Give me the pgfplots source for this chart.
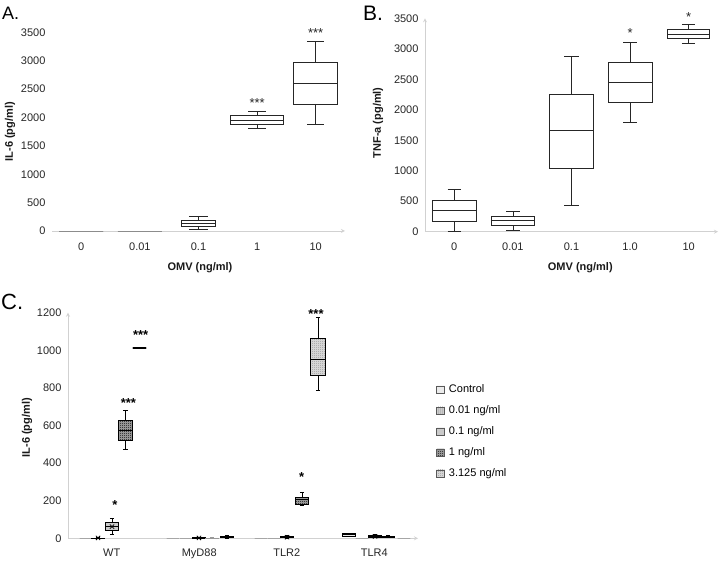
\documentclass[border=0pt]{standalone}
\usepackage{fontspec}
\setmainfont{Liberation Sans}
\usepackage{pgfplots}
\pgfplotsset{compat=1.18}
\usepgfplotslibrary{statistics}
\usetikzlibrary{patterns}
\pgfdeclarepatternformonly{finecheck}{\pgfpointorigin}{\pgfqpoint{2pt}{2pt}}{\pgfqpoint{2pt}{2pt}}{%
  \pgfpathrectangle{\pgfpointorigin}{\pgfqpoint{1pt}{1pt}}%
  \pgfpathrectangle{\pgfqpoint{1pt}{1pt}}{\pgfqpoint{1pt}{1pt}}%
  \pgfusepath{fill}}
\pgfdeclarepatternformonly{finedots}{\pgfqpoint{-0.5pt}{-0.5pt}}{\pgfqpoint{2pt}{2pt}}{\pgfqpoint{2pt}{2pt}}{%
  \pgfpathcircle{\pgfpointorigin}{0.45pt}%
  \pgfusepath{fill}}
\pgfdeclarepatternformonly{finevlines}{\pgfpointorigin}{\pgfqpoint{2pt}{1pt}}{\pgfqpoint{2pt}{1pt}}{%
  \pgfpathrectangle{\pgfpointorigin}{\pgfqpoint{0.8pt}{1pt}}%
  \pgfusepath{fill}}
\tikzset{
  star/.style={font=\fontsize{13}{13}\selectfont, text=black!85, inner sep=0pt},
  cstar/.style={font=\fontsize{13}{13}\selectfont\bfseries, text=black, inner sep=0pt},
  F0/.style={fill=gray!12, postaction={pattern=finedots, pattern color=gray!55}},
  F1/.style={fill=gray!40, postaction={pattern=finevlines, pattern color=gray!75}},
  F2/.style={fill=gray!35, postaction={pattern=finedots, pattern color=black!55}},
  F3/.style={fill=gray!65, postaction={pattern=finecheck, pattern color=black}},
  F4/.style={fill=gray!25, postaction={pattern=finecheck, pattern color=gray!85}},
}
\begin{document}
\begin{tikzpicture}
\useasboundingbox (0pt,0pt) rectangle (720pt,562pt);
\pgfplotsset{
  base/.style={scale only axis, clip=false, anchor=south west,
    boxplot/draw direction=y,
    axis line style={draw=black!18, line width=0.8pt, -},
    major tick length=0pt, tick style={draw=none},
    /pgf/number format/assume math mode=true,
    /pgf/number format/1000 sep={},
    scaled y ticks=false,
    tick label style={font=\fontsize{11}{13}\selectfont, text=black!85},
    label style={font=\fontsize{11}{13}\selectfont\bfseries, text=black!90},
    yticklabel style={xshift=-3pt},
    xticklabel style={yshift=-8pt},
  },
  bx/.style={draw=black!85, line width=0.8pt, solid},
  cbx/.style={draw=black, line width=0.9pt, solid, forget plot},
  P0/.style={boxplot/every box/.style={F0}},
  P1/.style={boxplot/every box/.style={F1}},
  P2/.style={boxplot/every box/.style={F2}},
  P3/.style={boxplot/every box/.style={F3}},
  P4/.style={boxplot/every box/.style={F4}},
}
% ---------------- Panel A ----------------
\begin{axis}[base, at={(52pt,331pt)}, width=293pt, height=198.7pt,
  xmin=-0.5, xmax=4.5, ymin=0, ymax=3500,
  xtick={0,...,4}, xticklabels={0,0.01,0.1,1,10},
  ytick={0,500,...,3500},
  axis x line=bottom, axis y line=left, y axis line style={draw=none},
  xlabel={OMV (ng/ml)}, ylabel={IL-6 (pg/ml)},
  xlabel style={at={(axis description cs:0.505,-0.186)}, anchor=center},
  ylabel style={at={(axis description cs:-0.143,0.5)}, anchor=center},
]
\addplot[bx, draw=black!45, boxplot prepared={draw position=0, lower whisker=0, lower quartile=0, median=0, upper quartile=0, upper whisker=0, box extend=0.75, whisker extend=0.25}] coordinates {};
\addplot[bx, draw=black!45, boxplot prepared={draw position=1, lower whisker=0, lower quartile=0, median=0, upper quartile=0, upper whisker=0, box extend=0.75, whisker extend=0.25}] coordinates {};
\addplot[bx, boxplot prepared={draw position=2, lower whisker=30, lower quartile=80, median=140, upper quartile=195, upper whisker=250, box extend=0.58, whisker extend=0.33}] coordinates {};
\addplot[bx, boxplot prepared={draw position=3, lower whisker=1800, lower quartile=1880, median=1955, upper quartile=2030, upper whisker=2100, box extend=0.9, whisker extend=0.3}] coordinates {};
\addplot[bx, boxplot prepared={draw position=4, lower whisker=1873, lower quartile=2237, median=2600, upper quartile=2977, upper whisker=3335, box extend=0.75, whisker extend=0.29}] coordinates {};
\node[star] at (axis cs:3,2250) {***};
\node[star] at (axis cs:4,3490) {***};
\end{axis}
% ---------------- Panel B ----------------
\begin{axis}[base, at={(425pt,330.3pt)}, width=293pt, height=213.4pt,
  xmin=-0.5, xmax=4.5, ymin=0, ymax=3500,
  xtick={0,...,4}, xticklabels={0,0.01,0.1,1.0,10},
  ytick={0,500,...,3500},
  axis lines=left,
  xlabel={OMV (ng/ml)}, ylabel={TNF-a (pg/ml)},
  xlabel style={at={(axis description cs:0.53,-0.17)}, anchor=center},
  ylabel style={at={(axis description cs:-0.160,0.51)}, anchor=center},
]
\addplot[bx, boxplot prepared={draw position=0, lower whisker=0, lower quartile=175, median=355, upper quartile=519, upper whisker=700, box extend=0.75, whisker extend=0.23}] coordinates {};
\addplot[bx, boxplot prepared={draw position=1, lower whisker=27, lower quartile=98, median=180, upper quartile=257, upper whisker=339, box extend=0.75, whisker extend=0.23}] coordinates {};
\addplot[bx, boxplot prepared={draw position=2, lower whisker=432, lower quartile=1039, median=1657, upper quartile=2258, upper whisker=2870, box extend=0.75, whisker extend=0.25}] coordinates {};
\addplot[bx, boxplot prepared={draw position=3, lower whisker=1793, lower quartile=2116, median=2449, upper quartile=2777, upper whisker=3100, box extend=0.75, whisker extend=0.23}] coordinates {};
\addplot[bx, boxplot prepared={draw position=4, lower whisker=3089, lower quartile=3166, median=3237, upper quartile=3319, upper whisker=3395, box extend=0.72, whisker extend=0.23}] coordinates {};
\node[star] at (axis cs:3,3260) {*};
\node[star] at (axis cs:4,3520) {*};
\end{axis}
% ---------------- Panel C ----------------
\begin{axis}[base, at={(68pt,23.7pt)}, width=350pt, height=225.6pt,
  xmin=-0.5, xmax=3.5, ymin=0, ymax=1200,
  xtick={0,...,3}, xticklabels={WT,MyD88,TLR2,TLR4},
  ytick={0,200,...,1200},
  xticklabel style={yshift=1pt},
  axis lines=left,
  ylabel={IL-6 (pg/ml)},
  ylabel style={at={(axis description cs:-0.117,0.49)}, anchor=center},
  legend image code/.code={\draw[#1, line width=0.7pt, draw=black!65] (0pt,-3.6pt) rectangle (7.5pt,3.6pt); \path (10pt,0pt);},
  legend cell align=left,
  legend style={at={(1.052,0.69)}, anchor=north west, draw=none, fill=none,
    font=\fontsize{11}{13}\selectfont, row sep=7.5pt, inner sep=0pt},
]
% WT
\addplot[cbx, draw=gray!70, P0, boxplot prepared={draw position=-0.294, lower whisker=0, lower quartile=0, median=0, upper quartile=0, upper whisker=0, box extend=0.14, whisker extend=0.05}] coordinates {};
\addplot[cbx, P1, boxplot prepared={draw position=-0.157, lower whisker=0, lower quartile=0, median=0, upper quartile=1, upper whisker=4, box extend=0.14, whisker extend=0.05}] coordinates {};
\addplot[cbx, P2, boxplot prepared={draw position=0.003, lower whisker=21, lower quartile=41, median=62, upper quartile=83, upper whisker=105, box extend=0.14, whisker extend=0.05}] coordinates {};
\addplot[cbx, P3, boxplot prepared={draw position=0.157, lower whisker=473, lower quartile=523, median=576, upper quartile=629, upper whisker=682, box extend=0.15, whisker extend=0.05}] coordinates {};
\addplot[cbx, P4, line width=1.3pt, boxplot prepared={draw position=0.317, lower whisker=1012, lower quartile=1012, median=1012, upper quartile=1012, upper whisker=1012, box extend=0.15, whisker extend=0.05}] coordinates {};
% MyD88
\addplot[cbx, draw=gray!70, P0, boxplot prepared={draw position=0.70, lower whisker=0, lower quartile=0, median=0, upper quartile=0, upper whisker=0, box extend=0.14, whisker extend=0.05}] coordinates {};
\addplot[cbx, draw=gray!70, P1, boxplot prepared={draw position=0.85, lower whisker=0, lower quartile=0, median=0, upper quartile=0, upper whisker=0, box extend=0.14, whisker extend=0.05}] coordinates {};
\addplot[cbx, P2, boxplot prepared={draw position=0.997, lower whisker=0, lower quartile=0, median=1, upper quartile=2, upper whisker=5, box extend=0.14, whisker extend=0.05}] coordinates {};
\addplot[cbx, draw=gray!80, P3, boxplot prepared={draw position=1.146, lower whisker=0, lower quartile=0, median=0, upper quartile=1, upper whisker=2, box extend=0.14, whisker extend=0.05}] coordinates {};
\addplot[cbx, P4, boxplot prepared={draw position=1.317, lower whisker=0, lower quartile=2, median=5, upper quartile=8, upper whisker=13, box extend=0.14, whisker extend=0.05}] coordinates {};
% TLR2
\addplot[cbx, draw=gray!70, P0, boxplot prepared={draw position=1.706, lower whisker=0, lower quartile=0, median=0, upper quartile=0, upper whisker=0, box extend=0.14, whisker extend=0.05}] coordinates {};
\addplot[cbx, draw=gray!70, P1, boxplot prepared={draw position=1.854, lower whisker=0, lower quartile=0, median=0, upper quartile=0, upper whisker=0, box extend=0.14, whisker extend=0.05}] coordinates {};
\addplot[cbx, P2, boxplot prepared={draw position=2.003, lower whisker=0, lower quartile=3, median=6, upper quartile=9, upper whisker=14, box extend=0.14, whisker extend=0.05}] coordinates {};
\addplot[cbx, P3, boxplot prepared={draw position=2.174, lower whisker=177, lower quartile=181, median=204, upper quartile=218, upper whisker=245, box extend=0.14, whisker extend=0.05}] coordinates {};
\addplot[cbx, P4, boxplot prepared={draw position=2.357, lower whisker=787, lower quartile=867, median=952, upper quartile=1062, upper whisker=1175, box extend=0.18, whisker extend=0.05}] coordinates {};
% TLR4
\addplot[cbx, P0, boxplot prepared={draw position=2.711, lower whisker=8, lower quartile=10, median=18, upper quartile=24, upper whisker=26, box extend=0.14, whisker extend=0.05}] coordinates {};
\addplot[cbx, draw=gray!70, P1, boxplot prepared={draw position=2.86, lower whisker=0, lower quartile=0, median=0, upper quartile=0, upper whisker=0, box extend=0.14, whisker extend=0.05}] coordinates {};
\addplot[cbx, P2, boxplot prepared={draw position=3.009, lower whisker=2, lower quartile=6, median=10, upper quartile=14, upper whisker=20, box extend=0.14, whisker extend=0.05}] coordinates {};
\addplot[cbx, P3, boxplot prepared={draw position=3.157, lower whisker=3, lower quartile=6, median=9, upper quartile=12, upper whisker=15, box extend=0.14, whisker extend=0.05}] coordinates {};
\addplot[cbx, draw=gray!70, P4, boxplot prepared={draw position=3.34, lower whisker=0, lower quartile=0, median=0, upper quartile=0, upper whisker=0, box extend=0.14, whisker extend=0.05}] coordinates {};
% means
\addplot[only marks, mark=x, mark size=3pt, black, line width=0.8pt, forget plot] coordinates {(-0.157,2) (0.003,62) (0.997,2) (2.003,6) (3.009,10)};
% stars
\node[cstar] at (axis cs:0.037,177) {*};
\node[cstar] at (axis cs:0.19,719) {***};
\node[cstar] at (axis cs:0.33,1079) {***};
\node[cstar] at (axis cs:2.17,324) {*};
\node[cstar] at (axis cs:2.334,1193) {***};
% legend
\addlegendimage{F0}
\addlegendentry{Control}
\addlegendimage{F1}
\addlegendentry{0.01 ng/ml}
\addlegendimage{F2}
\addlegendentry{0.1 ng/ml}
\addlegendimage{F3}
\addlegendentry{1 ng/ml}
\addlegendimage{F4}
\addlegendentry{3.125 ng/ml}
\end{axis}
% panel letters
\node[anchor=west, inner sep=0pt, font=\fontsize{18}{18}\selectfont] at (2pt,549pt) {A.};
\node[anchor=west, inner sep=0pt, font=\fontsize{21}{21}\selectfont] at (363pt,549pt) {B.};
\node[anchor=west, inner sep=0pt, font=\fontsize{22}{22}\selectfont] at (1pt,260pt) {C.};
\end{tikzpicture}
\end{document}
